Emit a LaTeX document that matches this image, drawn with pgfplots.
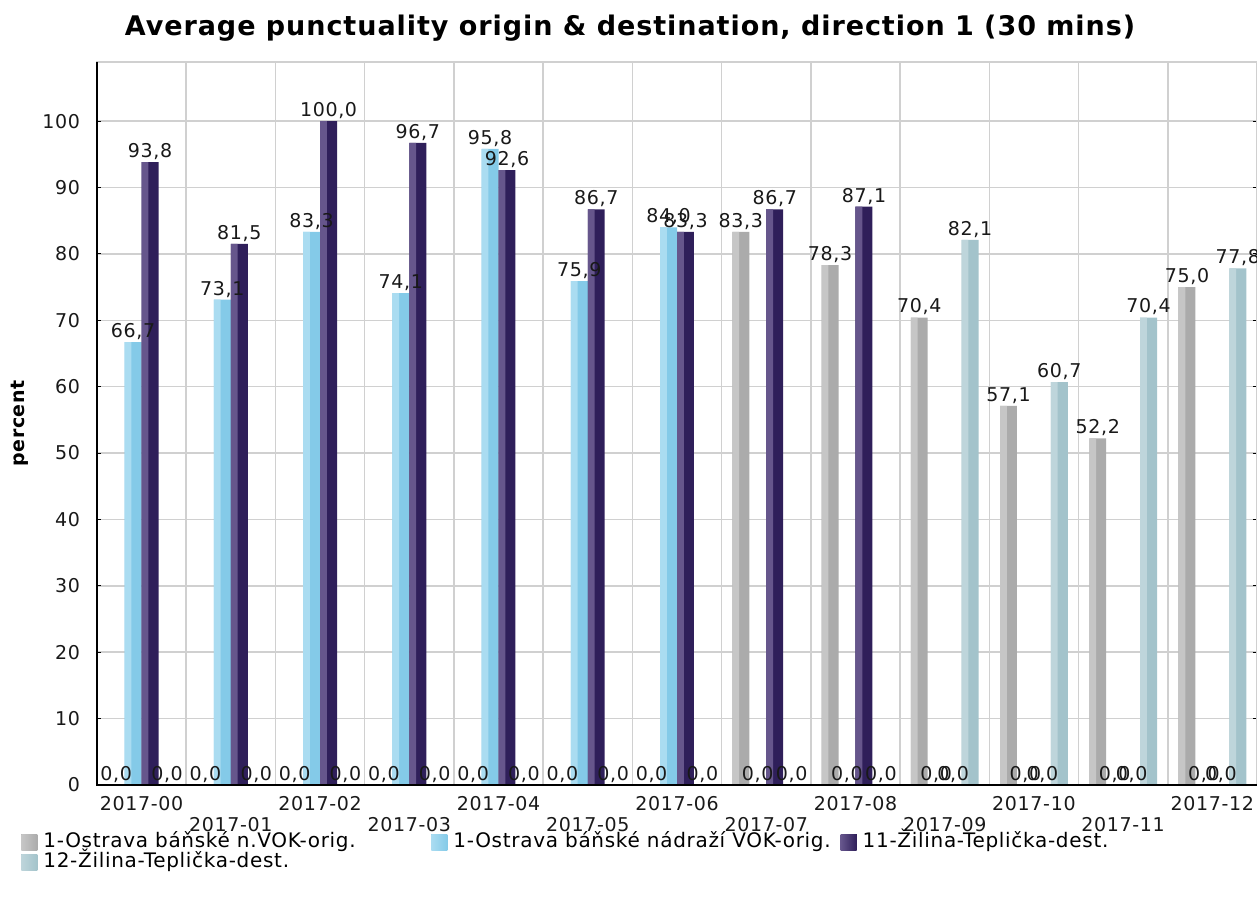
\documentclass[border=0pt]{standalone}
\usepackage{pgfplots}
\pgfplotsset{compat=1.18}
\usepackage{fontspec}
\setmainfont{DejaVu Sans}[LetterSpace=3.5]
\definecolor{gL}{HTML}{C6C6C6}
\definecolor{gR}{HTML}{ABABAB}
\definecolor{bL}{HTML}{AADCF1}
\definecolor{bR}{HTML}{84CAE8}
\definecolor{pL}{HTML}{66568C}
\definecolor{pR}{HTML}{2F1F5A}
\definecolor{cL}{HTML}{BED5DB}
\definecolor{cR}{HTML}{A3C3CB}
\definecolor{gridc}{HTML}{D0D0D0}
\pgfplotsset{
  /pgf/number format/assume math mode=true,
  vl/.style={
    nodes near coords={\pgfmathprintnumber[fixed,fixed zerofill,precision=1,use comma]{\pgfplotspointmeta}},
    every node near coord/.append style={font=\fontsize{9.5}{11}\selectfont, inner sep=1pt, text=black!90, xshift=#1},
  },
  sq/.style 2 args={legend image code/.code={\fill[left color=#1, right color=#2] (0pt,-4pt) rectangle (8pt,4pt);}},
  bb/.style={ybar, bar width=0.19, draw=none},
  st/.style={ybar, bar width=0.076, draw=none, forget plot},
}
\begin{document}
\begin{tikzpicture}
\begin{axis}[
  scale only axis, width=580pt, height=361.5pt,
  xmin=-0.5, xmax=12.5, ymin=0, ymax=108.9,
  axis line style={gridc, line width=0.75pt},
  xtick={0,2,...,12},
  xticklabels={2017-00,2017-02,2017-04,2017-06,2017-08,2017-10,2017-12},
  extra x ticks={1,3,...,11},
  extra x tick labels={2017-01,2017-03,2017-05,2017-07,2017-09,2017-11},
  extra x tick style={grid=none, xticklabel style={yshift=-10.5pt}},
  xtick style={draw=none},
  minor xtick={-0.5,0.5,...,12.5},
  minor x tick style={draw=none},
  xminorgrids,
  ytick={0,10,...,100},
  ymajorgrids,
  grid style={gridc, line width=0.75pt},
  minor grid style={gridc, line width=0.75pt},
  ytick style={black, line width=0.5pt},
  major tick length=2pt,
  tick align=inside,
  ticklabel style={font=\fontsize{9.5}{11}\selectfont, text=black!90},
  yticklabel style={xshift=-5pt},
  xticklabel style={yshift=-2pt},
  ylabel={\bfseries percent},
  ylabel style={font=\fontsize{9.5}{11}\selectfont, at={(axis description cs:-0.0664,0.5)}, anchor=center},
  legend columns=3,
  legend cell align=left,
  legend style={at={(axis description cs:-0.0655,-0.065)}, anchor=north west, draw=none, fill=none,
    inner sep=0pt, row sep=0pt, column sep=0pt,
    font=\fontsize{10}{12}\selectfont,
    nodes={inner xsep=3pt, inner ysep=0.5pt, text height=7pt, text depth=2pt},
    /tikz/every even column/.style={column sep=2pt}},
  clip=false,
]
\addplot[bb, sq={gL}{gR}, bar shift=-0.285, fill=gR, vl=-12.72pt]
  coordinates {(7,83.3)(8,78.3)(9,70.4)(10,57.1)(11,52.2)(12,75.0)};
\addlegendentry{\makebox[189pt][l]{1-Ostrava báňské n.VOK-orig.}}
\addplot[bb, sq={bL}{bR}, bar shift=-0.095, fill=bR, vl=-4.24pt]
  coordinates {(0,66.7)(1,73.1)(2,83.3)(3,74.1)(4,95.8)(5,75.9)(6,84.0)};
\addlegendentry{1-Ostrava báňské nádraží VOK-orig.}
\addplot[bb, sq={pL}{pR}, bar shift=0.095, fill=pR, vl=4.24pt]
  coordinates {(0,93.8)(1,81.5)(2,100.0)(3,96.7)(4,92.6)(5,86.7)(6,83.3)(7,86.7)(8,87.1)};
\addlegendentry{11-Žilina-Teplička-dest.}
\addplot[bb, sq={cL}{cR}, bar shift=0.285, fill=cR, vl=12.72pt]
  coordinates {(9,82.1)(10,60.7)(11,70.4)(12,77.8)};
\addlegendentry{12-Žilina-Teplička-dest.}
% lighter left strips of the bars
\addplot[st, bar shift=-0.342, fill=gL]
  coordinates {(7,83.3)(8,78.3)(9,70.4)(10,57.1)(11,52.2)(12,75.0)};
\addplot[st, bar shift=-0.152, fill=bL]
  coordinates {(0,66.7)(1,73.1)(2,83.3)(3,74.1)(4,95.8)(5,75.9)(6,84.0)};
\addplot[st, bar shift=0.038, fill=pL]
  coordinates {(0,93.8)(1,81.5)(2,100.0)(3,96.7)(4,92.6)(5,86.7)(6,83.3)(7,86.7)(8,87.1)};
\addplot[st, bar shift=0.228, fill=cL]
  coordinates {(9,82.1)(10,60.7)(11,70.4)(12,77.8)};
% zero-valued labels
\addplot[bb, bar shift=-0.285, fill=none, forget plot, vl=-12.72pt]
  coordinates {(0,0)(1,0)(2,0)(3,0)(4,0)(5,0)(6,0)};
\addplot[bb, bar shift=-0.095, fill=none, forget plot, vl=-4.24pt]
  coordinates {(7,0)(8,0)(9,0)(10,0)(11,0)(12,0)};
\addplot[bb, bar shift=0.095, fill=none, forget plot, vl=4.24pt]
  coordinates {(9,0)(10,0)(11,0)(12,0)};
\addplot[bb, bar shift=0.285, fill=none, forget plot, vl=12.72pt]
  coordinates {(0,0)(1,0)(2,0)(3,0)(4,0)(5,0)(6,0)(7,0)(8,0)};
\draw[black, line width=1pt] (rel axis cs:0,1) -- (rel axis cs:0,0) -- (rel axis cs:1,0);
\end{axis}
\pgfresetboundingbox
\path (current axis.south west) ++(-48.5pt,-57.5pt) coordinate (bl);
\path (current axis.north east) ++(0pt,31pt) coordinate (tr);
\path[use as bounding box] (bl) rectangle (tr);
\node[font=\bfseries\fontsize{13.5}{16}\selectfont] at ([xshift=266.5pt, yshift=17pt]current axis.north west) {Average punctuality origin \& destination, direction 1 (30 mins)};
\end{tikzpicture}
\end{document}
